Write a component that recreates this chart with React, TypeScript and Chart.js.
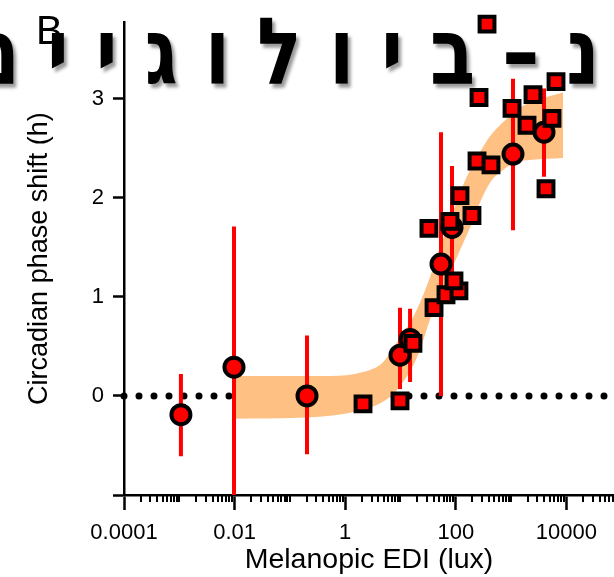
import React, { useEffect, useRef } from "react";
import { Chart, registerables } from "chart.js";

Chart.register(...registerables);

// ---- data ----
const circleX = [0.00107, 0.00975, 0.204, 9.8, 14.9, 54, 85.4, 1082, 3936];
const circleY = [-0.19, 0.29, 0.0, 0.41, 0.57, 1.33, 1.7, 2.44, 2.66];
const circleLo = [-0.61, -1.0, -0.59, 0.07, 0.14, 0.0, 1.07, 1.67, 2.21];
const circleHi = [0.22, 1.71, 0.61, 0.89, 0.88, 2.66, 2.32, 3.2, 3.1];

const squareX = [2.1, 9.8, 16.8, 40.4, 66.5, 114, 92.7, 32.7, 78.5, 196, 119, 242, 433, 1040, 1940, 5490, 2490, 6490, 263, 367, 4280];
const squareY = [-0.08, -0.05, 0.53, 0.89, 1.02, 1.06, 1.16, 1.69, 1.76, 1.82, 2.02, 2.37, 2.33, 2.9, 2.73, 2.8, 3.04, 3.17, 3.01, 3.75, 2.09];

const bandX = [0.0102, 0.152, 0.531, 2.1, 4.83, 8.65, 14.9, 22.5, 34.2, 51.8, 78.5, 119, 181, 274, 415, 713, 1279, 2198, 8690];
const bandUpper = [0.2, 0.2, 0.2, 0.24, 0.34, 0.54, 0.74, 0.94, 1.2, 1.5, 1.77, 2.05, 2.28, 2.46, 2.62, 2.76, 2.89, 2.96, 3.06];
const bandLower = [-0.23, -0.22, -0.2, -0.14, -0.06, 0.06, 0.25, 0.46, 0.77, 1.0, 1.24, 1.47, 1.7, 1.95, 2.15, 2.28, 2.36, 2.38, 2.4];

const zeroLineX = [0.0001, 72600];
const zeroLineY = [0, 0];

const xRange = [0.0001, 72600];
const yRange = [-1, 3.77];
const xTickValues = [0.0001, 0.01, 1, 100, 10000];
const xTickLabels = ["0.0001", "0.01", "1", "100", "10000"];
const yTickValues = [-1, 0, 1, 2, 3];
const yTickLabels = ["", "0", "1", "2", "3"];
const minorMultipliers = [1, 2, 3, 4, 5, 6, 7, 8, 9];
const minorDecades = [-4, -3, -2, -1, 0, 1, 2, 3, 4, 5];

const xTitle = "Melanopic EDI (lux)";
const yTitle = "Circadian phase shift (h)";
const panelLabel = "B";
const overlayText = "טנ–ביולוגיים";

const FONT = '"Liberation Sans", Arial, Helvetica, sans-serif';
const RED = "#ff0000";
const BAND = "#fec083";

const minorTicksPlugin = {
  id: "minorTicks",
  afterDraw(chart: any) {
    const s = chart.scales.x;
    const ctx = chart.ctx;
    const y0 = chart.chartArea.bottom;
    ctx.save();
    ctx.strokeStyle = "#000";
    ctx.lineWidth = 2;
    for (const e of minorDecades) {
      for (const m of minorMultipliers) {
        const v = m * Math.pow(10, e);
        if (xTickValues.some((t) => Math.abs(t - v) / t < 1e-6)) continue;
        if (v < s.min * 0.999 || v > s.max) continue;
        const px = Math.round(s.getPixelForValue(v));
        ctx.beginPath();
        ctx.moveTo(px, y0);
        ctx.lineTo(px, y0 + 7);
        ctx.stroke();
      }
    }
    ctx.restore();
  },
};

export default function App() {
  const ref = useRef<HTMLCanvasElement | null>(null);

  useEffect(() => {
    if (!ref.current) return;
    const errData: any[] = [];
    circleX.forEach((x, i) => {
      errData.push({ x, y: circleLo[i] });
      errData.push({ x, y: circleHi[i] });
      errData.push({ x, y: null });
    });

    const chart = new Chart(ref.current, {
      type: "scatter",
      data: {
        datasets: [
          {
            type: "scatter",
            data: squareX.map((x, i) => ({ x, y: squareY[i] })),
            pointStyle: "rect",
            pointRadius: 10.5,
            pointBorderWidth: 4,
            backgroundColor: RED,
            borderColor: "#000",
            pointBackgroundColor: RED,
            pointBorderColor: "#000",
            order: 0,
            clip: false,
          } as any,
          {
            type: "scatter",
            data: circleX.map((x, i) => ({ x, y: circleY[i] })),
            pointStyle: "circle",
            pointRadius: 9.5,
            pointBorderWidth: 4,
            backgroundColor: RED,
            borderColor: "#000",
            pointBackgroundColor: RED,
            pointBorderColor: "#000",
            order: 1,
            clip: false,
          } as any,
          {
            type: "line",
            data: errData,
            borderColor: RED,
            borderWidth: 4,
            pointRadius: 0,
            spanGaps: false,
            borderCapStyle: "butt",
            fill: false,
            order: 2,
          } as any,
          {
            type: "line",
            data: bandX.map((x, i) => ({ x, y: bandUpper[i] })),
            borderColor: "rgba(0,0,0,0)",
            borderWidth: 0,
            pointRadius: 0,
            backgroundColor: BAND,
            fill: "+1",
            cubicInterpolationMode: "monotone",
            order: 3,
          } as any,
          {
            type: "line",
            data: bandX.map((x, i) => ({ x, y: bandLower[i] })),
            borderColor: "rgba(0,0,0,0)",
            borderWidth: 0,
            pointRadius: 0,
            fill: false,
            cubicInterpolationMode: "monotone",
            order: 4,
          } as any,
          {
            type: "line",
            data: zeroLineX.map((x, i) => ({ x, y: zeroLineY[i] })),
            borderColor: "#000",
            borderWidth: 7,
            borderDash: [0, 15],
            borderCapStyle: "round",
            pointRadius: 0,
            fill: false,
            order: 5,
            clip: false,
          } as any,
        ],
      },
      options: {
        animation: false,
        responsive: false,
        maintainAspectRatio: false,
        layout: { autoPadding: false, padding: { top: 20, right: 0, left: 0, bottom: 0 } },
        plugins: {
          legend: { display: false },
          tooltip: { enabled: false },
        },
        scales: {
          x: {
            type: "logarithmic",
            position: "bottom",
            min: xRange[0],
            max: xRange[1],
            afterBuildTicks: (s: any) => {
              s.ticks = xTickValues.map((v) => ({ value: v }));
            },
            afterFit: (s: any) => {
              s.height = 82;
            },
            ticks: {
              autoSkip: false,
              maxRotation: 0,
              minRotation: 0,
              padding: 10,
              color: "#000",
              font: { family: FONT, size: 22 },
              callback: (_v: any, i: number) => xTickLabels[i],
            },
            grid: {
              drawOnChartArea: false,
              drawTicks: true,
              tickLength: 15,
              tickWidth: 2.5,
              tickColor: "#000",
            },
            border: { display: true, color: "#000", width: 2.5 },
            title: {
              display: true,
              text: xTitle,
              color: "#000",
              font: { family: FONT, size: 28.5, lineHeight: 1 },
              padding: { top: 0, bottom: 2.5 },
            },
          },
          y: {
            type: "linear",
            min: yRange[0],
            max: yRange[1],
            afterBuildTicks: (s: any) => {
              s.ticks = yTickValues.map((v) => ({ value: v }));
            },
            afterFit: (s: any) => {
              s.width = 124;
            },
            ticks: {
              autoSkip: false,
              padding: 9,
              color: "#000",
              font: { family: FONT, size: 22 },
              callback: (_v: any, i: number) => yTickLabels[i],
            },
            grid: {
              drawOnChartArea: false,
              drawTicks: true,
              tickLength: 11,
              tickWidth: 2.5,
              tickColor: "#000",
            },
            border: { display: true, color: "#000", width: 2.5 },
            title: {
              display: true,
              text: yTitle,
              color: "#000",
              font: { family: FONT, size: 27, lineHeight: 1 },
              padding: { top: 26.5, bottom: 0 },
            },
          },
        },
      } as any,
      plugins: [minorTicksPlugin],
    });
    return () => chart.destroy();
  }, []);

  return (
    <div
      style={{
        position: "absolute",
        left: 0,
        top: 0,
        width: 614,
        height: 577,
        overflow: "hidden",
        background: "#fff",
      }}
    >
      <canvas
        ref={ref}
        width={614}
        height={577}
        style={{ position: "absolute", left: 0, top: 0, width: 614, height: 577 }}
      />
      <div
        style={{
          position: "absolute",
          left: 36,
          top: 10,
          font: `40px ${FONT}`,
          lineHeight: 1,
          color: "#000",
        }}
      >
        {panelLabel}
      </div>
      <div
        dir="rtl"
        style={{
          position: "absolute",
          right: -90,
          top: 21,
          font: 'bold 74px "DejaVu Sans", sans-serif',
          lineHeight: 1,
          letterSpacing: "27px",
          whiteSpace: "nowrap",
          color: "#000",
          textShadow: "3px 3px 3px rgba(0,0,0,0.4)",
          transform: "scaleY(1.25)",
          transformOrigin: "50% 62px",
        }}
      >
        {overlayText}
      </div>
    </div>
  );
}
